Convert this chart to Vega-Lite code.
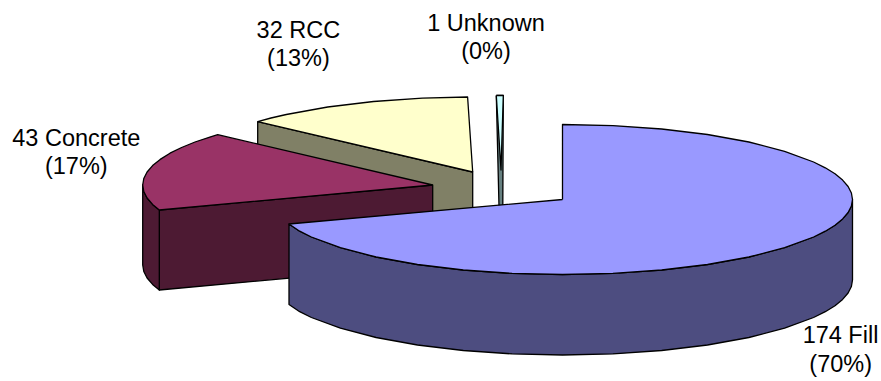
{
  "$schema": "https://vega.github.io/schema/vega-lite/v6.json",
  "width": 881,
  "height": 381,
  "padding": 0,
  "autosize": {"type": "fit", "contains": "padding"},
  "background": "white",
  "config": {"view": {"stroke": null}},
  "layer": [
    {
      "data": {"values": [
        {"poly":"RCC front","part":"RCC side","seq":1,"x":257.7,"y":121.7},
        {"poly":"RCC front","part":"RCC side","seq":2,"x":472.7,"y":172},
        {"poly":"RCC front","part":"RCC side","seq":3,"x":472.7,"y":252},
        {"poly":"RCC front","part":"RCC side","seq":4,"x":257.7,"y":201.7},
        {"poly":"RCC front","part":"RCC side","seq":5,"x":257.7,"y":121.7},

        {"poly":"RCC face","part":"RCC top","seq":1,"x":472.7,"y":172},
        {"poly":"RCC face","part":"RCC top","seq":2,"x":257.7,"y":121.7},
        {"poly":"RCC face","part":"RCC top","seq":3,"x":271,"y":118},
        {"poly":"RCC face","part":"RCC top","seq":4,"x":286.3,"y":114.5},
        {"poly":"RCC face","part":"RCC top","seq":5,"x":327.7,"y":107},
        {"poly":"RCC face","part":"RCC top","seq":6,"x":373.5,"y":101.5},
        {"poly":"RCC face","part":"RCC top","seq":7,"x":422.4,"y":98.1},
        {"poly":"RCC face","part":"RCC top","seq":8,"x":467.6,"y":97},
        {"poly":"RCC face","part":"RCC top","seq":9,"x":472.7,"y":172},

        {"poly":"Unknown front","part":"Unknown side","seq":1,"x":496.3,"y":95.5},
        {"poly":"Unknown front","part":"Unknown side","seq":2,"x":499,"y":206},
        {"poly":"Unknown front","part":"Unknown side","seq":3,"x":502.8,"y":206},
        {"poly":"Unknown front","part":"Unknown side","seq":4,"x":503.3,"y":95.5},
        {"poly":"Unknown front","part":"Unknown side","seq":5,"x":496.3,"y":95.5},

        {"poly":"Unknown face","part":"Unknown top","seq":1,"x":496.3,"y":95.5},
        {"poly":"Unknown face","part":"Unknown top","seq":2,"x":503.3,"y":95.5},
        {"poly":"Unknown face","part":"Unknown top","seq":3,"x":501,"y":170},
        {"poly":"Unknown face","part":"Unknown top","seq":4,"x":496.3,"y":95.5},

        {"poly":"Concrete front","part":"Concrete side","seq":1,"x":159.3,"y":210},
        {"poly":"Concrete front","part":"Concrete side","seq":2,"x":432.7,"y":185},
        {"poly":"Concrete front","part":"Concrete side","seq":3,"x":432.7,"y":265},
        {"poly":"Concrete front","part":"Concrete side","seq":4,"x":159.3,"y":290},
        {"poly":"Concrete front","part":"Concrete side","seq":5,"x":159.3,"y":210},

        {"poly":"Concrete rim","part":"Concrete side","seq":1,"x":159.3,"y":210},
        {"poly":"Concrete rim","part":"Concrete side","seq":2,"x":152.6,"y":204.4},
        {"poly":"Concrete rim","part":"Concrete side","seq":3,"x":147.1,"y":198},
        {"poly":"Concrete rim","part":"Concrete side","seq":4,"x":143.8,"y":191.5},
        {"poly":"Concrete rim","part":"Concrete side","seq":5,"x":142.7,"y":185},
        {"poly":"Concrete rim","part":"Concrete side","seq":6,"x":142.7,"y":265},
        {"poly":"Concrete rim","part":"Concrete side","seq":7,"x":143.8,"y":271.5},
        {"poly":"Concrete rim","part":"Concrete side","seq":8,"x":147.1,"y":278},
        {"poly":"Concrete rim","part":"Concrete side","seq":9,"x":152.6,"y":284.4},
        {"poly":"Concrete rim","part":"Concrete side","seq":10,"x":159.3,"y":290},
        {"poly":"Concrete rim","part":"Concrete side","seq":11,"x":159.3,"y":210},

        {"poly":"Concrete face","part":"Concrete top","seq":1,"x":432.7,"y":185},
        {"poly":"Concrete face","part":"Concrete top","seq":2,"x":159.3,"y":210},
        {"poly":"Concrete face","part":"Concrete top","seq":3,"x":152.6,"y":204.4},
        {"poly":"Concrete face","part":"Concrete top","seq":4,"x":147.1,"y":198},
        {"poly":"Concrete face","part":"Concrete top","seq":5,"x":143.8,"y":191.5},
        {"poly":"Concrete face","part":"Concrete top","seq":6,"x":142.7,"y":185},
        {"poly":"Concrete face","part":"Concrete top","seq":7,"x":143.8,"y":178.5},
        {"poly":"Concrete face","part":"Concrete top","seq":8,"x":147.1,"y":172},
        {"poly":"Concrete face","part":"Concrete top","seq":9,"x":152.6,"y":165.6},
        {"poly":"Concrete face","part":"Concrete top","seq":10,"x":160.2,"y":159.4},
        {"poly":"Concrete face","part":"Concrete top","seq":11,"x":170,"y":153.2},
        {"poly":"Concrete face","part":"Concrete top","seq":12,"x":181.6,"y":147.5},
        {"poly":"Concrete face","part":"Concrete top","seq":13,"x":195,"y":142},
        {"poly":"Concrete face","part":"Concrete top","seq":14,"x":210.6,"y":136.8},
        {"poly":"Concrete face","part":"Concrete top","seq":15,"x":217.7,"y":134.7},
        {"poly":"Concrete face","part":"Concrete top","seq":16,"x":432.7,"y":185},

        {"poly":"Fill rim","part":"Fill side","seq":1,"x":852.5,"y":199.5},
        {"poly":"Fill rim","part":"Fill side","seq":2,"x":851.4,"y":206},
        {"poly":"Fill rim","part":"Fill side","seq":3,"x":848.1,"y":212.5},
        {"poly":"Fill rim","part":"Fill side","seq":4,"x":842.6,"y":218.9},
        {"poly":"Fill rim","part":"Fill side","seq":5,"x":835,"y":225.2},
        {"poly":"Fill rim","part":"Fill side","seq":6,"x":825.3,"y":231.2},
        {"poly":"Fill rim","part":"Fill side","seq":7,"x":813.6,"y":237},
        {"poly":"Fill rim","part":"Fill side","seq":8,"x":784.6,"y":247.7},
        {"poly":"Fill rim","part":"Fill side","seq":9,"x":748.9,"y":257},
        {"poly":"Fill rim","part":"Fill side","seq":10,"x":707.5,"y":264.5},
        {"poly":"Fill rim","part":"Fill side","seq":11,"x":661.7,"y":270},
        {"poly":"Fill rim","part":"Fill side","seq":12,"x":612.9,"y":273.4},
        {"poly":"Fill rim","part":"Fill side","seq":13,"x":562.5,"y":274.5},
        {"poly":"Fill rim","part":"Fill side","seq":14,"x":512.1,"y":273.4},
        {"poly":"Fill rim","part":"Fill side","seq":15,"x":463.3,"y":270},
        {"poly":"Fill rim","part":"Fill side","seq":16,"x":417.5,"y":264.5},
        {"poly":"Fill rim","part":"Fill side","seq":17,"x":376.1,"y":257},
        {"poly":"Fill rim","part":"Fill side","seq":18,"x":340.4,"y":247.7},
        {"poly":"Fill rim","part":"Fill side","seq":19,"x":311.4,"y":237},
        {"poly":"Fill rim","part":"Fill side","seq":20,"x":299.7,"y":231.2},
        {"poly":"Fill rim","part":"Fill side","seq":21,"x":289,"y":224},
        {"poly":"Fill rim","part":"Fill side","seq":22,"x":289,"y":304.5},
        {"poly":"Fill rim","part":"Fill side","seq":23,"x":299.7,"y":311.7},
        {"poly":"Fill rim","part":"Fill side","seq":24,"x":311.4,"y":317.5},
        {"poly":"Fill rim","part":"Fill side","seq":25,"x":340.4,"y":328.2},
        {"poly":"Fill rim","part":"Fill side","seq":26,"x":376.1,"y":337.5},
        {"poly":"Fill rim","part":"Fill side","seq":27,"x":417.5,"y":345},
        {"poly":"Fill rim","part":"Fill side","seq":28,"x":463.3,"y":350.5},
        {"poly":"Fill rim","part":"Fill side","seq":29,"x":512.1,"y":353.9},
        {"poly":"Fill rim","part":"Fill side","seq":30,"x":562.5,"y":355},
        {"poly":"Fill rim","part":"Fill side","seq":31,"x":612.9,"y":353.9},
        {"poly":"Fill rim","part":"Fill side","seq":32,"x":661.7,"y":350.5},
        {"poly":"Fill rim","part":"Fill side","seq":33,"x":707.5,"y":345},
        {"poly":"Fill rim","part":"Fill side","seq":34,"x":748.9,"y":337.5},
        {"poly":"Fill rim","part":"Fill side","seq":35,"x":784.6,"y":328.2},
        {"poly":"Fill rim","part":"Fill side","seq":36,"x":813.6,"y":317.5},
        {"poly":"Fill rim","part":"Fill side","seq":37,"x":825.3,"y":311.7},
        {"poly":"Fill rim","part":"Fill side","seq":38,"x":835,"y":305.7},
        {"poly":"Fill rim","part":"Fill side","seq":39,"x":842.6,"y":299.4},
        {"poly":"Fill rim","part":"Fill side","seq":40,"x":848.1,"y":293},
        {"poly":"Fill rim","part":"Fill side","seq":41,"x":851.4,"y":286.5},
        {"poly":"Fill rim","part":"Fill side","seq":42,"x":852.5,"y":280},
        {"poly":"Fill rim","part":"Fill side","seq":43,"x":852.5,"y":199.5},

        {"poly":"Fill face","part":"Fill top","seq":1,"x":562.5,"y":199.5},
        {"poly":"Fill face","part":"Fill top","seq":2,"x":562.5,"y":124.5},
        {"poly":"Fill face","part":"Fill top","seq":3,"x":612.9,"y":125.6},
        {"poly":"Fill face","part":"Fill top","seq":4,"x":661.7,"y":129},
        {"poly":"Fill face","part":"Fill top","seq":5,"x":707.5,"y":134.5},
        {"poly":"Fill face","part":"Fill top","seq":6,"x":748.9,"y":142},
        {"poly":"Fill face","part":"Fill top","seq":7,"x":784.6,"y":151.3},
        {"poly":"Fill face","part":"Fill top","seq":8,"x":813.6,"y":162},
        {"poly":"Fill face","part":"Fill top","seq":9,"x":825.3,"y":167.8},
        {"poly":"Fill face","part":"Fill top","seq":10,"x":835,"y":173.8},
        {"poly":"Fill face","part":"Fill top","seq":11,"x":842.6,"y":180.1},
        {"poly":"Fill face","part":"Fill top","seq":12,"x":848.1,"y":186.5},
        {"poly":"Fill face","part":"Fill top","seq":13,"x":851.4,"y":193},
        {"poly":"Fill face","part":"Fill top","seq":14,"x":852.5,"y":199.5},
        {"poly":"Fill face","part":"Fill top","seq":15,"x":851.4,"y":206},
        {"poly":"Fill face","part":"Fill top","seq":16,"x":848.1,"y":212.5},
        {"poly":"Fill face","part":"Fill top","seq":17,"x":842.6,"y":218.9},
        {"poly":"Fill face","part":"Fill top","seq":18,"x":835,"y":225.2},
        {"poly":"Fill face","part":"Fill top","seq":19,"x":825.3,"y":231.2},
        {"poly":"Fill face","part":"Fill top","seq":20,"x":813.6,"y":237},
        {"poly":"Fill face","part":"Fill top","seq":21,"x":784.6,"y":247.7},
        {"poly":"Fill face","part":"Fill top","seq":22,"x":748.9,"y":257},
        {"poly":"Fill face","part":"Fill top","seq":23,"x":707.5,"y":264.5},
        {"poly":"Fill face","part":"Fill top","seq":24,"x":661.7,"y":270},
        {"poly":"Fill face","part":"Fill top","seq":25,"x":612.9,"y":273.4},
        {"poly":"Fill face","part":"Fill top","seq":26,"x":562.5,"y":274.5},
        {"poly":"Fill face","part":"Fill top","seq":27,"x":512.1,"y":273.4},
        {"poly":"Fill face","part":"Fill top","seq":28,"x":463.3,"y":270},
        {"poly":"Fill face","part":"Fill top","seq":29,"x":417.5,"y":264.5},
        {"poly":"Fill face","part":"Fill top","seq":30,"x":376.1,"y":257},
        {"poly":"Fill face","part":"Fill top","seq":31,"x":340.4,"y":247.7},
        {"poly":"Fill face","part":"Fill top","seq":32,"x":311.4,"y":237},
        {"poly":"Fill face","part":"Fill top","seq":33,"x":299.7,"y":231.2},
        {"poly":"Fill face","part":"Fill top","seq":34,"x":289,"y":224},
        {"poly":"Fill face","part":"Fill top","seq":35,"x":562.5,"y":199.5}
      ]},
      "mark": {"type": "line", "stroke": "#000000", "strokeWidth": 1.3, "strokeJoin": "round", "clip": false},
      "encoding": {
        "x": {"field": "x", "type": "quantitative", "scale": {"domain": [0, 881]}, "axis": null},
        "y": {"field": "y", "type": "quantitative", "scale": {"domain": [381, 0]}, "axis": null},
        "detail": {"field": "poly"},
        "order": {"field": "seq"},
        "fill": {
          "field": "part",
          "type": "nominal",
          "legend": null,
          "scale": {
            "domain": ["Fill top", "Fill side", "Concrete top", "Concrete side", "RCC top", "RCC side", "Unknown top", "Unknown side"],
            "range": ["#9999FF", "#4D4D80", "#993366", "#4D1A33", "#FFFFCC", "#808066", "#CCFFFF", "#668080"]
          }
        }
      }
    },
    {
      "data": {"values": [
        {"text": "32 RCC", "x": 298.4, "y": 38.3},
        {"text": "(13%)", "x": 298.4, "y": 65.7},
        {"text": "1 Unknown", "x": 486, "y": 30.7},
        {"text": "(0%)", "x": 486, "y": 59.3},
        {"text": "43 Concrete", "x": 76.3, "y": 146},
        {"text": "(17%)", "x": 76.3, "y": 174.3},
        {"text": "174 Fill", "x": 840.5, "y": 343.3},
        {"text": "(70%)", "x": 840.7, "y": 371.5}
      ]},
      "mark": {"type": "text", "font": "Liberation Sans", "fontSize": 23.5, "align": "center", "baseline": "alphabetic", "color": "#000000"},
      "encoding": {
        "x": {"field": "x", "type": "quantitative", "scale": {"domain": [0, 881]}, "axis": null},
        "y": {"field": "y", "type": "quantitative", "scale": {"domain": [381, 0]}, "axis": null},
        "text": {"field": "text", "type": "nominal"}
      }
    }
  ]
}
